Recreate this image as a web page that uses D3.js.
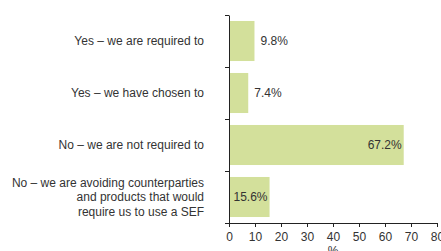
<!DOCTYPE html>
<html lang="en">
  <head>
    <meta charset="utf-8">
    <script src="https://d3js.org/d3.v7.min.js"></script>
    <style>
    body { margin: 0; background: #fff; }
    text { font-family: "Liberation Sans", Arial, sans-serif; }
    </style>
  </head>
  <body>
    <div id="place"></div>
    <script type="text/javascript">
    // chart data
    var categories = [
      ["Yes \u2013 we are required to"],
      ["Yes \u2013 we have chosen to"],
      ["No \u2013 we are not required to"],
      ["No \u2013 we are avoiding counterparties", "and products that would", "require us to use a SEF"]
    ];
    var values = [9.8, 7.4, 67.2, 15.6];
    var xTicks = [0, 10, 20, 30, 40, 50, 60, 70, 80];
    var xLabel = "%";

    var width = 441, height = 251;
    var margin = { top: 15, left: 229, bottom: 28, right: 4 };

    var svg = d3.select('#place').append('svg')
        .attr('width', width)
        .attr('height', height);

    var xScale = d3.scaleLinear()
        .domain([0, 80])
        .range([margin.left, width - margin.right]);

    var yScale = d3.scaleBand()
        .domain(d3.range(categories.length))
        .range([margin.top, height - margin.bottom])
        .paddingInner(0.23)
        .paddingOuter(0.115);

    // bars
    svg.selectAll('rect.bar')
        .data(values)
        .enter().append('rect')
        .attr('class', 'bar')
        .attr('x', xScale(0))
        .attr('y', (d, i) => yScale(i))
        .attr('width', d => xScale(d) - xScale(0))
        .attr('height', yScale.bandwidth())
        .attr('fill', '#d3e09b');

    // value labels - inside the bar when it's wide enough
    svg.selectAll('text.val')
        .data(values)
        .enter().append('text')
        .attr('class', 'val')
        .attr('x', d => d > 12 ? xScale(d) - 2 : xScale(d) + 6)
        .attr('y', (d, i) => yScale(i) + yScale.bandwidth() / 2)
        .attr('dy', '0.35em')
        .attr('text-anchor', d => d > 12 ? 'end' : 'start')
        .style('font-size', '12px')
        .style('fill', '#333')
        .text(d => d.toFixed(1) + '%');

    // category labels
    var catLabels = svg.selectAll('text.cat')
        .data(categories)
        .enter().append('text')
        .attr('class', 'cat')
        .attr('text-anchor', 'end')
        .style('font-size', '12px')
        .style('fill', '#333')
        .attr('y', (d, i) => yScale(i) + yScale.bandwidth() / 2);

    catLabels.selectAll('tspan')
        .data(d => d.map((t, j) => ({ t: t, j: j, n: d.length })))
        .enter().append('tspan')
        .attr('x', 204)
        .attr('dy', d => d.j === 0 ? (0.35 - (d.n - 1) * 0.6) + 'em' : '1.2em')
        .text(d => d.t);

    // y axis with ticks at the band edges
    var yEdge = d3.scaleLinear()
        .domain([0, categories.length])
        .range([margin.top, height - margin.bottom]);

    svg.append('g')
        .attr('transform', `translate(${xScale(0)},0)`)
        .call(d3.axisLeft(yEdge).tickValues(d3.range(categories.length + 1)).tickFormat('').tickSize(4).tickSizeOuter(0))
        .call(g => g.selectAll('path, line').attr('stroke', '#222'));

    // x axis
    var xAxis = svg.append('g')
        .attr('transform', `translate(0,${height - margin.bottom})`)
        .call(d3.axisBottom(xScale).tickValues(xTicks).tickSize(4).tickPadding(5).tickSizeOuter(0));
    xAxis.selectAll('path, line').attr('stroke', '#222');
    xAxis.selectAll('text')
        .style('font-size', '12px')
        .style('fill', '#333')
        .style('font-family', '"Liberation Sans", Arial, sans-serif');

    svg.append('text')
        .attr('x', (xScale(0) + xScale(80)) / 2)
        .attr('y', 255)
        .attr('text-anchor', 'middle')
        .style('font-size', '12px')
        .style('fill', '#333')
        .text(xLabel);
    </script>
  </body>
</html>
